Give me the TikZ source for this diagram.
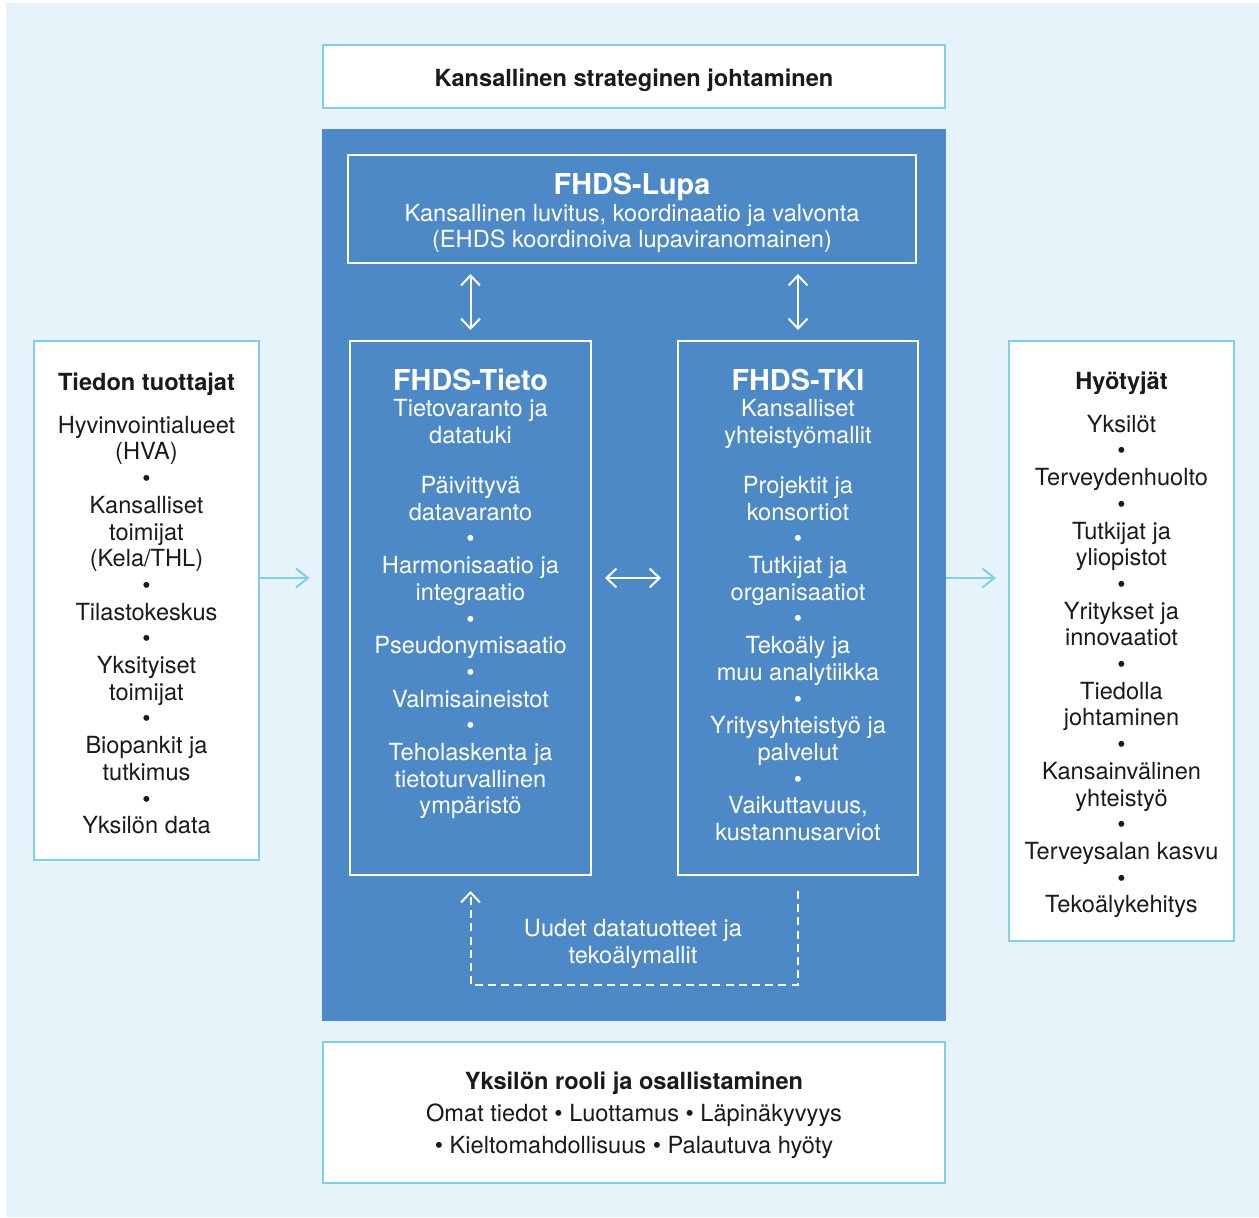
\documentclass[tikz,border=0pt]{standalone}
\usepackage{fontspec}
\setmainfont{TeX Gyre Heros}
\usetikzlibrary{arrows.meta}
\definecolor{bgblue}{HTML}{E6F3FA}
\definecolor{mainblue}{HTML}{4D89C6}
\definecolor{lineblue}{HTML}{80CFEA}
\definecolor{darktext}{HTML}{1A1A1A}
\tikzset{
  every node/.style={font=\fontsize{11.8pt}{13.35pt}\selectfont, align=center, inner sep=0pt},
  outerbox/.style={draw=lineblue, fill=white, line width=1pt, text=darktext},
  innerbox/.style={draw=white, line width=1pt},
  whitetext/.style={text=white},
  flowarrow/.style={draw=lineblue, line width=1pt, -{Straight Barb[length=6pt,width=9.5pt]}},
  dblarrow/.style={draw=white, line width=1pt, {Straight Barb[length=5pt,width=9.5pt]}-{Straight Barb[length=5pt,width=9.5pt]}},
  loopline/.style={draw=white, line width=1pt, dash pattern=on 4pt off 2.6pt, -{Straight Barb[length=5pt,width=9.5pt]}}
}
\newcommand{\fhdstitle}[1]{{\fontsize{14.4pt}{13.35pt}\selectfont\bfseries #1}}

\begin{document}
\begin{tikzpicture}[x=0.5pt,y=-0.5pt]
  \useasboundingbox (0,0) rectangle (1259,1217);
  \fill[bgblue] (6,3) rectangle (1259,1217);

  \node[outerbox, minimum width=311pt, minimum height=31.5pt] (strat) at (634,76.5) {};
  \node[text=darktext] at ([yshift=-2pt]strat.center) {\bfseries Kansallinen strateginen johtaminen};
  \node[fill=mainblue, minimum width=312pt, minimum height=446pt] (main) at (634,575) {};

  \node[innerbox, minimum width=284pt, minimum height=54pt] (lupa) at (632,209) {};
  \node[whitetext] (lupatext) at ([yshift=-2pt]lupa.center)
    {\fhdstitle{FHDS-Lupa}\\
     Kansallinen luvitus, koordinaatio ja valvonta\\
     (EHDS koordinoiva lupaviranomainen)};

  \node[innerbox, minimum width=120.5pt, minimum height=267pt] (tieto) at (470.5,608) {};
  \node[innerbox, minimum width=120pt, minimum height=267pt] (tki) at (798,608) {};

  \node[whitetext, anchor=north] (tietotext) at (470.5,369)
    {\fhdstitle{FHDS-Tieto}\\[-0.3pt]
     Tietovaranto ja\\datatuki\\[11.6pt]
     Päivittyvä\\datavaranto\\•\\Harmonisaatio ja\\integraatio\\•\\
     Pseudonymisaatio\\•\\Valmisaineistot\\•\\Teholaskenta ja\\tietoturvallinen\\ympäristö};
  \node[whitetext, anchor=north] (tkitext) at (798,369)
    {\fhdstitle{FHDS-TKI}\\[-0.3pt]
     Kansalliset\\yhteistyömallit\\[11.6pt]
     Projektit ja\\konsortiot\\•\\Tutkijat ja\\organisaatiot\\•\\
     Tekoäly ja\\muu analytiikka\\•\\Yritysyhteistyö ja\\palvelut\\•\\
     Vaikuttavuus,\\kustannusarviot};

  \node[outerbox, minimum width=112.5pt, minimum height=259.5pt] (tuottajat) at (146.5,600.5) {};
  \node[text=darktext] (tuottajattext) at ([yshift=-1.5pt]tuottajat.center)
    {{\bfseries Tiedon tuottajat}\\[8pt]
     Hyvinvointialueet\\(HVA)\\•\\Kansalliset\\toimijat\\(Kela/THL)\\•\\
     Tilastokeskus\\•\\Yksityiset\\toimijat\\•\\Biopankit ja\\tutkimus\\•\\Yksilön data};
  \node[outerbox, minimum width=112.5pt, minimum height=300pt] (hyotyjat) at (1121.5,641) {};
  \node[text=darktext] (hyotyjattext) at ([yshift=-2pt]hyotyjat.center)
    {{\bfseries Hyötyjät}\\[8pt]
     Yksilöt\\•\\Terveydenhuolto\\•\\Tutkijat ja\\yliopistot\\•\\
     Yritykset ja\\innovaatiot\\•\\Tiedolla\\johtaminen\\•\\
     Kansainvälinen\\yhteistyö\\•\\Terveysalan kasvu\\•\\Tekoälykehitys};

  \node[outerbox, minimum width=311pt, minimum height=70.5pt] (yksilo) at (634,1112.5) {};
  \node[text=darktext] (yksilotext) at ([yshift=-1.5pt]yksilo.center)
    {{\bfseries Yksilön rooli ja osallistaminen}\\[2.65pt]
     Omat tiedot • Luottamus • Läpinäkyvyys\\[2.65pt]
     • Kieltomahdollisuus • Palautuva hyöty};

  \node[whitetext] (uudet) at (633,944) {Uudet datatuotteet ja\\tekoälymallit};
  \coordinate (mid) at (634,578);

  \draw[dblarrow, shorten <=5pt, shorten >=5pt] (tieto.north |- lupa.south) -- (tieto.north);
  \draw[dblarrow, shorten <=5pt, shorten >=5pt] (tki.north |- lupa.south) -- (tki.north);
  \draw[dblarrow, shorten <=6.5pt, shorten >=8pt] (tieto.east |- mid) -- (tki.west |- mid);
  \draw[loopline, shorten >=7.5pt] ([yshift=-7.5pt]tki.south) -- ++(0,94) -| (tieto.south);

  \draw[flowarrow, shorten >=6pt] (tuottajat.east |- mid) -- (main.west |- mid);
  \draw[flowarrow, shorten >=6pt] (main.east |- mid) -- (hyotyjat.west |- mid);
\end{tikzpicture}
\end{document}
